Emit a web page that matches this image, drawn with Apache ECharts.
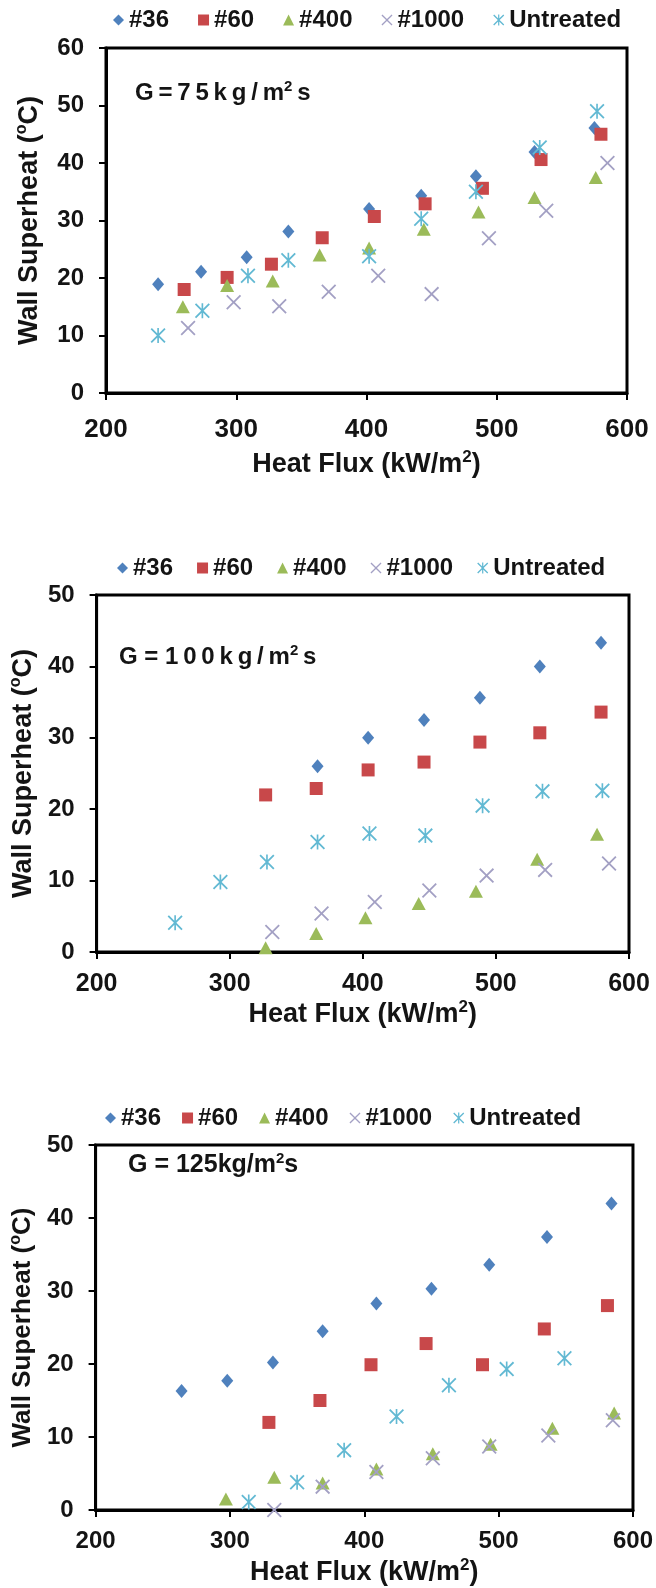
<!DOCTYPE html>
<html>
<head>
<meta charset="utf-8">
<script src="https://cdn.jsdelivr.net/npm/echarts@6/dist/echarts.min.js"></script>
<style>
  html, body { margin: 0; padding: 0; background: #fff; }
  #chart { width: 656px; height: 1588px; }
</style>
</head>
<body>
<div id="chart"></div>
<script>
// Surface roughness samples (sandpaper grit) and the untreated tube
const seriesNames = ['#36', '#60', '#400', '#1000', 'Untreated'];

// Axis ticks
const fluxTicks = [200, 300, 400, 500, 600];          // heat flux, kW/m2
const superheatTicks75 = [0, 10, 20, 30, 40, 50, 60]; // wall superheat, °C
const superheatTicks100 = [0, 10, 20, 30, 40, 50];
const superheatTicks125 = [0, 10, 20, 30, 40, 50];

// G = 75 kg/m2s : [heat flux, wall superheat]
const g75_36 = [[240, 18.9], [273, 21.1], [308, 23.6], [340, 28.1], [402, 32.0], [442, 34.3], [484, 37.7], [529, 41.9], [575, 46.1]];
const g75_60 = [[260, 18.0], [293, 20.1], [327, 22.4], [366, 27.0], [406, 30.7], [445, 32.9], [489, 35.6], [534, 40.6], [580, 45.0]];
const g75_400 = [[259, 15.0], [293, 18.7], [328, 19.5], [364, 24.0], [402, 25.2], [444, 28.5], [486, 31.5], [529, 34.0], [576, 37.5]];
const g75_1000 = [[263, 11.3], [298, 15.8], [333, 15.1], [371, 17.6], [409, 20.4], [450, 17.2], [494, 26.9], [538, 31.7], [585, 40.0]];
const g75_untreated = [[240, 10.0], [274, 14.3], [309, 20.4], [340, 23.1], [402, 23.8], [442, 30.3], [484, 35.0], [533, 42.7], [577, 49.0]];

// G = 100 kg/m2s
const g100_36 = [[366, 26.0], [404, 30.0], [446, 32.5], [488, 35.6], [533, 40.0], [579, 43.3]];
const g100_60 = [[327, 22.0], [365, 22.9], [404, 25.5], [446, 26.6], [488, 29.4], [533, 30.7], [579, 33.6]];
const g100_400 = [[327, 0.6], [365, 2.6], [402, 4.8], [442, 6.8], [485, 8.5], [531, 13.0], [576, 16.5]];
const g100_1000 = [[332, 2.8], [369, 5.4], [409, 7.0], [450, 8.6], [493, 10.7], [537, 11.5], [585, 12.4]];
const g100_untreated = [[259, 4.1], [293, 9.8], [328, 12.6], [366, 15.4], [405, 16.6], [447, 16.3], [490, 20.5], [535, 22.5], [580, 22.6]];

// G = 125 kg/m2s
const g125_36 = [[264, 16.3], [298, 17.7], [332, 20.2], [369, 24.5], [409, 28.3], [450, 30.3], [493, 33.6], [536, 37.4], [584, 42.0]];
const g125_60 = [[329, 12.0], [367, 15.0], [405, 19.9], [446, 22.8], [488, 19.9], [534, 24.8], [581, 28.0]];
const g125_400 = [[297, 1.5], [333, 4.5], [369, 3.7], [409, 5.6], [451, 7.7], [494, 9.0], [540, 11.2], [586, 13.3]];
const g125_1000 = [[333, 0.0], [369, 3.2], [409, 5.2], [451, 7.1], [493, 8.7], [537, 10.2], [585, 12.3]];
const g125_untreated = [[314, 1.1], [350, 3.8], [385, 8.2], [424, 12.8], [463, 17.1], [506, 19.3], [549, 20.8]];

const FONT = '"Liberation Sans", Arial, sans-serif';
const INK = '#141414';
const THIN = '\u2009';

// Marker shapes: filled X and X-with-vertical-bar asterisk
const xPath = 'path://M0,0.85L0.85,0L5,4.15L9.15,0L10,0.85L5.85,5L10,9.15L9.15,10L5,5.85L0.85,10L0,9.15L4.15,5Z';
const starPath = 'path://M0,0.85L0.85,0L5,4.15L9.15,0L10,0.85L5.85,5L10,9.15L9.15,10L5,5.85L0.85,10L0,9.15L4.15,5Z' +
                 'M4.45,0L5.55,0L5.55,10L4.45,10Z';

const markers = [
  { symbol: 'diamond', size: [12, 14], color: '#4F81BD' },
  { symbol: 'rect', size: 13, color: '#C8484A' },
  { symbol: 'triangle', size: [14, 13], color: '#9BBB59' },
  { symbol: xPath, size: 15, color: '#A3A0C4' },
  { symbol: starPath, size: 15, color: '#62B9D3' }
];

const panels = [
  {
    data: [g75_36, g75_60, g75_400, g75_1000, g75_untreated],
    ticks: superheatTicks75,
    grid: { left: 106, top: 48, width: 521, height: 345 },
    legend: { left: 113, top: 8, gap: 29 },
    label: { parts: ['G' + THIN + '=' + THIN + '7' + THIN + '5' + THIN + 'k' + THIN + 'g' + THIN + '/' + THIN + 'm', '2', THIN + 's'], left: 135, top: 79, size: 24 },
    xLabel: { margin: 24, size: 26 },
    xName: { gap: 56, size: 27 },
    yName: { gap: 61, size: 27 }
  },
  {
    data: [g100_36, g100_60, g100_400, g100_1000, g100_untreated],
    ticks: superheatTicks100,
    grid: { left: 94, top: 595, width: 535, height: 357 },
    legend: { left: 117, top: 556, gap: 24 },
    label: { parts: ['G = 1' + THIN + '0' + THIN + '0' + THIN + 'k' + THIN + 'g' + THIN + '/' + THIN + 'm', '2', THIN + 's'], left: 119, top: 643, size: 24 },
    xLabel: { margin: 20, size: 25 },
    xName: { gap: 47, size: 27 },
    yName: { gap: 49, size: 27 }
  },
  {
    data: [g125_36, g125_60, g125_400, g125_1000, g125_untreated],
    ticks: superheatTicks125,
    grid: { left: 92, top: 1145, width: 541, height: 365 },
    legend: { left: 105, top: 1106, gap: 21 },
    label: { parts: ['G = 125kg/m', '2', 's'], left: 128, top: 1151, size: 25 },
    xLabel: { margin: 19, size: 24 },
    xName: { gap: 47, size: 27 },
    yName: { gap: 48, size: 26 }
  }
];

const richText = (big, small) => ({
  b: { fontFamily: FONT, fontWeight: 'bold', fontSize: big, color: INK, lineHeight: big + 4 },
  s: { fontFamily: FONT, fontWeight: 'bold', fontSize: small, color: INK, lineHeight: small, verticalAlign: 'top' }
});

const legendData = seriesNames.map((name, i) => ({
  name,
  icon: markers[i].symbol
}));

const option = {
  backgroundColor: '#fff',
  animation: false,
  title: panels.map(p => ({
    text: '{b|' + p.label.parts[0] + '}{s|' + p.label.parts[1] + '}{b|' + p.label.parts[2] + '}',
    left: p.label.left,
    top: p.label.top,
    padding: 0,
    textStyle: { rich: richText(p.label.size, 15) }
  })),
  legend: panels.map(p => ({
    data: legendData,
    left: p.legend.left,
    top: p.legend.top,
    padding: 0,
    itemWidth: 11,
    itemHeight: 11,
    itemGap: p.legend.gap,
    selectedMode: false,
    textStyle: { fontFamily: FONT, fontWeight: 'bold', fontSize: 24, color: INK }
  })),
  grid: panels.map(p => Object.assign({
    show: true,
    borderColor: '#000',
    borderWidth: 3,
    backgroundColor: 'transparent',
    containLabel: false
  }, p.grid)),
  xAxis: panels.map((p, i) => ({
    type: 'value',
    gridIndex: i,
    min: fluxTicks[0],
    max: fluxTicks[fluxTicks.length - 1],
    interval: fluxTicks[1] - fluxTicks[0],
    name: '{b|Heat Flux (kW/m}{s|2}{b|)}',
    nameLocation: 'middle',
    nameGap: p.xName.gap,
    nameTextStyle: { rich: richText(p.xName.size, 17) },
    axisLine: { show: true, onZero: false, lineStyle: { color: '#000', width: 3 } },
    axisTick: { show: true, inside: false, length: 7, lineStyle: { color: '#000', width: 2 } },
    splitLine: { show: false },
    axisLabel: {
      margin: p.xLabel.margin,
      fontFamily: FONT, fontWeight: 'bold', fontSize: p.xLabel.size, color: INK
    }
  })),
  yAxis: panels.map((p, i) => ({
    type: 'value',
    gridIndex: i,
    min: p.ticks[0],
    max: p.ticks[p.ticks.length - 1],
    interval: p.ticks[1] - p.ticks[0],
    name: '{b|Wall Superheat (}{s|o}{b|C)}',
    nameLocation: 'middle',
    nameRotate: 90,
    nameGap: p.yName.gap,
    nameTextStyle: { rich: richText(p.yName.size, 16) },
    axisLine: { show: true, onZero: false, lineStyle: { color: '#000', width: 3 } },
    axisTick: { show: true, inside: false, length: 7, lineStyle: { color: '#000', width: 2 } },
    splitLine: { show: false },
    axisLabel: { margin: 22, fontFamily: FONT, fontWeight: 'bold', fontSize: 24, color: INK }
  })),
  series: []
};

panels.forEach((p, gi) => {
  seriesNames.forEach((name, si) => {
    option.series.push({
      type: 'scatter',
      name,
      xAxisIndex: gi,
      yAxisIndex: gi,
      data: p.data[si],
      symbol: markers[si].symbol,
      symbolSize: markers[si].size,
      clip: false,
      itemStyle: { color: markers[si].color, opacity: 1 },
      emphasis: { disabled: true }
    });
  });
});

const chart = echarts.init(document.getElementById('chart'), null, { renderer: 'canvas' });
chart.setOption(option);
</script>
</body>
</html>
